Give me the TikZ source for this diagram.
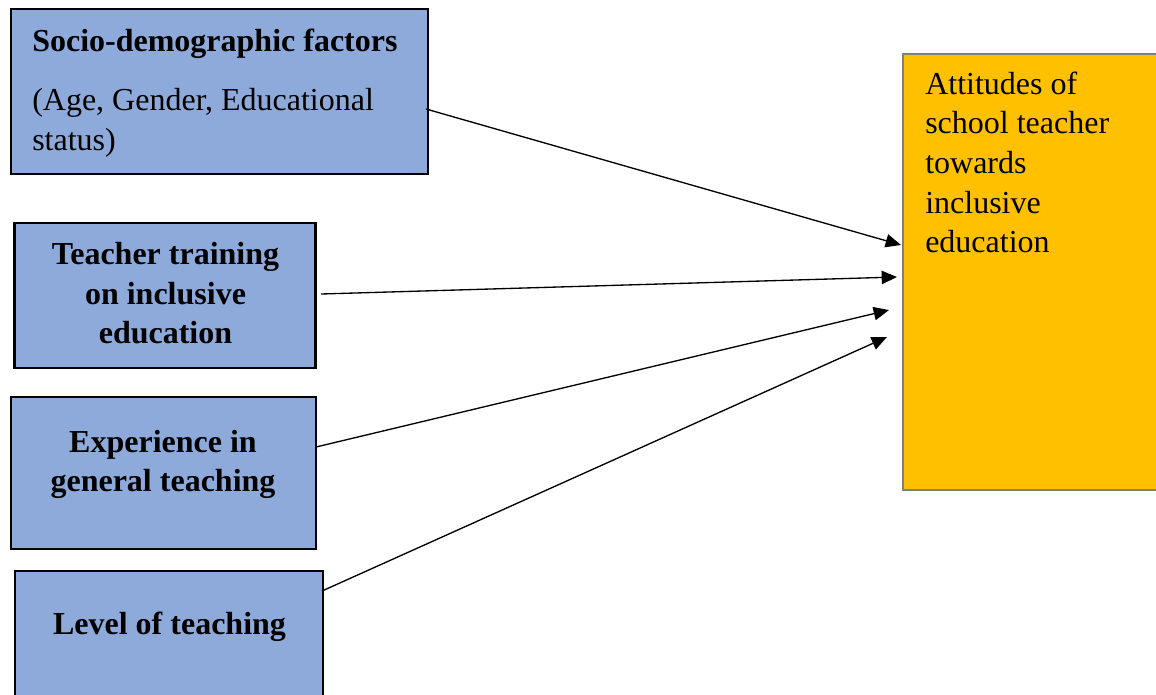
\documentclass[tikz,border=0pt]{standalone}
\usepackage{fontspec}
\setmainfont{Liberation Serif}
\usetikzlibrary{arrows.meta}
\definecolor{boxblue}{HTML}{8EAADB}
\definecolor{boxgold}{HTML}{FFC000}
\definecolor{boxgray}{HTML}{7F7F7F}
\begin{document}
\begin{tikzpicture}[x=0.75pt,y=-0.75pt,
  bluebox/.style={draw=black,line width=2pt,fill=boxblue,inner sep=0pt,outer sep=0pt},
  goldbox/.style={draw=boxgray,line width=1.6pt,fill=boxgold,inner sep=0pt,outer sep=0pt},
  txt/.style={inner sep=0pt,anchor=base,font=\fontsize{24}{29.6}\selectfont},
  txtb/.style={txt,font=\fontsize{24}{29.6}\selectfont\bfseries},
  txtl/.style={txt,anchor=base west},
  arr/.style={-{Triangle[length=11.5pt,width=10pt]},line width=1pt,black}]
\useasboundingbox (0,0) rectangle (1156,694);
\clip (0,0) rectangle (1156,694);
% boxes
\node[bluebox,minimum width=417*0.75pt,minimum height=165*0.75pt] (b1) at (219.5,91.5) {};
\node[bluebox,minimum width=301*0.75pt,minimum height=145*0.75pt] (b2) at (165,295.5) {};
\node[bluebox,minimum width=305*0.75pt,minimum height=152*0.75pt] (b3) at (163.5,473) {};
\node[bluebox,minimum width=308*0.75pt,minimum height=160*0.75pt] (b4) at (169,651) {};
\node[goldbox,minimum width=280*0.75pt,minimum height=436*0.75pt] (r) at (1043,272) {};
% texts
\node[txtb,anchor=base west] (t1a) at (32,51) {Socio-demographic factors};
\node[txtl] (t1b) at (32,110) {(Age, Gender, Educational};
\node[txtl] (t1c) at (32,150) {status)};
\node[txtb] (t2a) at (165.5,264) {Teacher training};
\node[txtb] (t2b) at (165.5,304) {on inclusive};
\node[txtb] (t2c) at (165.5,343) {education};
\node[txtb] (t3a) at (163,452) {Experience in};
\node[txtb] (t3b) at (163,491) {general teaching};
\node[txtb] (t4a) at (169.5,634) {Level of teaching};
\node[txtl] (r1) at (925,94) {Attitudes of};
\node[txtl] (r2) at (925,133) {school teacher};
\node[txtl] (r3) at (925,173) {towards};
\node[txtl] (r4) at (925,213) {inclusive};
\node[txtl] (r5) at (925,252) {education};
% connector ends
\coordinate (s1) at (426,109);
\coordinate (e1) at (901,245);
\coordinate (s2) at (321,294);
\coordinate (e2) at (897,277);
\coordinate (s3) at (316,447);
\coordinate (e3) at (889,310);
\coordinate (s4) at (322,591);
\coordinate (e4) at (887,337);
\draw[arr] (s1) -- (e1);
\draw[arr] (s2) -- (e2);
\draw[arr] (s3) -- (e3);
\draw[arr] (s4) -- (e4);
\end{tikzpicture}
\end{document}
